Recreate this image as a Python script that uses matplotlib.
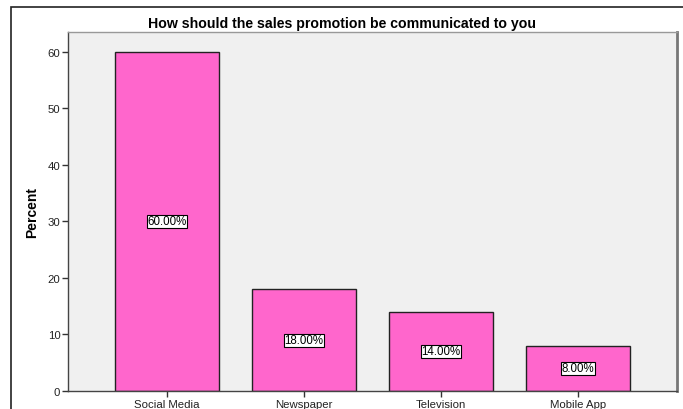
import matplotlib
matplotlib.use("Agg")
import matplotlib.pyplot as plt
from matplotlib.patches import Rectangle

categories = ["Social Media", "Newspaper", "Television", "Mobile App"]
percent = [60.0, 18.0, 14.0, 8.0]
yticks = [0, 10, 20, 30, 40, 50, 60]

plt.rcParams["font.family"] = ["Liberation Sans", "DejaVu Sans"]

fig = plt.figure(figsize=(6.83, 4.10), dpi=100)
fig.patch.set_facecolor("white")

W, H = 683, 410
ax = fig.add_axes([68 / W, (H - 392) / H, (677 - 68) / W, (392 - 33) / H])
ax.set_facecolor("#F0F0F0")

x = list(range(len(categories)))
ax.bar(x, percent, width=0.76, color="#FF66CC", edgecolor="#222222", linewidth=1.0, zorder=2)

for xi, v in zip(x, percent):
    ax.text(xi, v / 2, f"{v:.2f}%", ha="center", va="center", fontsize=8.3, color="black",
            bbox=dict(boxstyle="square,pad=0.05", facecolor="white", edgecolor="black", linewidth=0.8),
            zorder=3)

ax.set_xlim(-0.72, 3.72)
ax.set_ylim(0, 63.5)
ax.set_xticks(x)
ax.set_xticklabels(categories, fontsize=8.2, color="#222222")
ax.set_yticks(yticks)
ax.set_yticklabels([str(t) for t in yticks], fontsize=8.2, color="#222222")
ax.tick_params(axis="both", direction="out", length=4, width=1, color="#333333", pad=1.5)

for side in ["left", "bottom"]:
    ax.spines[side].set_color("#444444")
    ax.spines[side].set_linewidth(1.0)
ax.spines["top"].set_color("#999999")
ax.spines["top"].set_linewidth(1.0)
ax.spines["right"].set_color("#777777")
ax.spines["right"].set_linewidth(2.0)

ax.set_ylabel("Percent", fontsize=10, fontweight="bold", labelpad=6)
fig.text(0.5, (H - 24) / H, "How should the sales promotion be communicated to you",
         ha="center", va="center", fontsize=10.2, fontweight="bold")

# outer chart frame
fig.patches.append(Rectangle((11 / W, -0.1), 1.2, (H - 8) / H + 0.1, transform=fig.transFigure,
                             fill=False, edgecolor="#222222", linewidth=1.2))

fig.savefig("out.png", dpi=100)
